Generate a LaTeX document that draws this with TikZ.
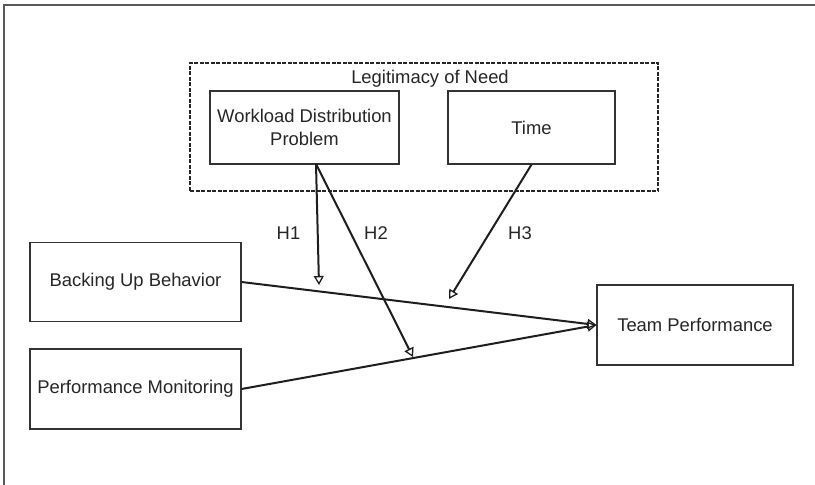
\documentclass[tikz,border=0pt]{standalone}
\usepackage{fontspec}
\setmainfont{Liberation Sans}
\usetikzlibrary{arrows.meta}
\definecolor{boxline}{HTML}{333333}
\definecolor{arrline}{HTML}{1E1E1E}
\tikzset{
  lbl/.style={font=\fontsize{18.4bp}{22.5bp}\selectfont, text=black!85, inner sep=0pt},
  box/.style={lbl, draw=boxline, line width=1.1bp, rectangle, align=center},
  conn/.style={draw=arrline, line width=2bp, -{Triangle[open, length=9bp, width=10bp, line width=1.3bp]}},
  grp/.style={draw=black!85, line width=1.6bp, dash pattern=on 4bp off 1.5bp, rectangle, inner sep=0pt},
}
\begin{document}
\begin{tikzpicture}[x=1bp, y=-1bp]
\useasboundingbox (0,0) rectangle (815,485);
\draw[draw=black!65, line width=1.4bp] (4,485) -- (4,5) -- (815,5);

\node[grp, minimum width=468bp, minimum height=128bp] (legit) at (424,127) {};
\node[lbl] (legittext) at (430,79) {Legitimacy of Need};
\node[box, minimum width=189bp, minimum height=73bp] (wdp) at (304.5,127.5) {Workload Distribution\\Problem};
\node[box, minimum width=167bp, minimum height=73bp] (time) at (531.5,127.5) {Time};

\node[box, minimum width=211bp, minimum height=79bp] (bub) at (135.5,282) {Backing Up Behavior};
\node[box, minimum width=211bp, minimum height=80bp] (pm) at (135.5,389) {Performance Monitoring};
\node[box, minimum width=196bp, minimum height=80bp] (tp) at (695,325) {Team Performance};

\coordinate (h1end) at (319,285);
\coordinate (h2end) at (413,357);
\coordinate (h3end) at (449,299);
\coordinate (wdpout) at (316,164);

\draw[conn] (bub.east) -- (tp.west);
\draw[conn] (pm.east) -- (tp.west);
\draw[conn] (wdpout) -- (h1end);
\draw[conn] (wdpout) -- (h2end);
\draw[conn] (time.south) -- (h3end);

\node[lbl] (h1) at (288.5,233) {H1};
\node[lbl] (h2) at (376,233) {H2};
\node[lbl] (h3) at (520,233) {H3};
\end{tikzpicture}
\end{document}
